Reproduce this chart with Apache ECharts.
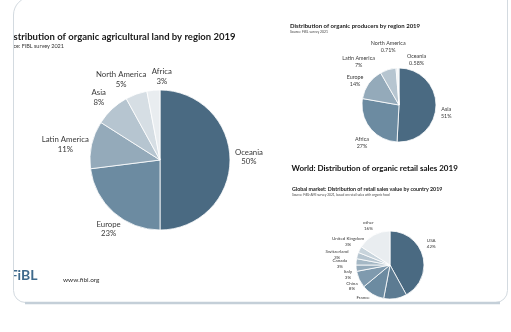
<!DOCTYPE html>
<html>
<head>
<meta charset="utf-8">
<script src="https://cdn.jsdelivr.net/npm/echarts@6/dist/echarts.min.js"></script>
<style>
  html, body { margin: 0; padding: 0; background: #ffffff; }
  #chart { width: 511px; height: 332px; }
</style>
</head>
<body>
<div id="chart"></div>
<script>
// Organic agricultural land by region 2019 (share of total, %)
const landRegions = ['Oceania', 'Europe', 'Latin America', 'Asia', 'North America', 'Africa'];
const landShares = [50, 23, 11, 8, 5, 3];

// Organic producers by region 2019 (share of total, %)
const producerRegions = ['Asia', 'Africa', 'Europe', 'Latin America', 'North America', 'Oceania'];
const producerShares = [51, 27, 14, 7, 0.71, 0.58];

// Retail sales value by country 2019 (share of global market, %)
const retailCountries = ['USA', 'Germany', 'France', 'China', 'Italy', 'Canada', 'Switzerland', 'United Kingdom', 'other'];
const retailShares = [42, 11, 11, 8, 3, 3, 3, 3, 16];

const FONT = 'Lato, "Open Sans", sans-serif';
const TEXT = '#3a3a3a';

const shadesSix = ['#4a6a82', '#6c8ba1', '#94aaba', '#b6c5d0', '#d6dee4', '#e9edf0'];
const shadesNine = ['#4a6a82', '#5c7b92', '#6c8ba1', '#7f9aae', '#94aaba', '#a5b8c5', '#b6c5d0', '#c8d4dc', '#e9edf0'];

// small hand adjustments of label placement, per slice name [dx, dy]
const labelNudges = {
  land: {
    'Oceania': [-6, -3], 'Europe': [16, 12], 'Latin America': [8, 1],
    'Asia': [3, -7], 'North America': [17, -9], 'Africa': [24, -8]
  },
  producers: {
    'Asia': [-4, 7], 'Africa': [7, 12], 'Europe': [3, -1],
    'Latin America': [-7, -4], 'North America': [14, -17], 'Oceania': [33, -4]
  },
  retail: {
    'USA': [-5, -12], 'other': [7, -6], 'United Kingdom': [13, -6], 'Switzerland': [0, 0],
    'Canada': [0, 2], 'Italy': [5, 6], 'China': [7, 5], 'France': [4, 3], 'Germany': [0, 4]
  }
};

function pieData(names, values, colors) {
  return names.map((n, i) => ({ name: n, value: values[i], itemStyle: { color: colors[i] } }));
}

// center each multi-line label on the point the library chose for it, then nudge
function centerLabels(nudges, names) {
  return function (params) {
    const r = params.labelRect;
    const d = nudges[names[params.dataIndex]] || [0, 0];
    return {
      x: r.x + r.width / 2 + d[0],
      y: r.y + r.height / 2 + d[1],
      align: 'center',
      verticalAlign: 'middle'
    };
  };
}

function pieSeries(name, names, values, colors, center, radius, fontSize, lineLen) {
  return {
    type: 'pie',
    name: name,
    center: center,
    radius: radius,
    startAngle: 90,
    clockwise: true,
    animation: false,
    silent: true,
    avoidLabelOverlap: false,
    itemStyle: { borderColor: '#ffffff', borderWidth: 0.8 },
    label: {
      show: true,
      position: 'outside',
      formatter: '{b}\n{c}%',
      fontFamily: FONT,
      fontSize: fontSize,
      lineHeight: fontSize * 1.25,
      color: TEXT
    },
    labelLine: { show: false, length: lineLen, length2: 0 },
    labelLayout: centerLabels(labelNudges[name], names),
    data: pieData(names, values, colors)
  };
}

const chart = echarts.init(document.getElementById('chart'), null, { renderer: 'canvas' });

chart.setOption({
  backgroundColor: '#ffffff',
  series: [
    pieSeries('land', landRegions, landShares, shadesSix, [160, 160], 70, 7.8, 6),
    pieSeries('producers', producerRegions, producerShares, shadesSix, [399, 105], 37, 5.4, 4),
    pieSeries('retail', retailCountries, retailShares, shadesNine, [390, 265], 34, 4.5, 4)
  ],
  graphic: [
    // area below the slide
    {
      type: 'rect', z: 9, silent: true,
      shape: { x: 0, y: 304, width: 511, height: 28 },
      style: { fill: '#ffffff' }
    },
    // slide frame
    {
      type: 'rect', z: 10, silent: true,
      shape: { x: 13.5, y: -3, width: 494, height: 305.5, r: [18, 3, 12, 12] },
      style: { fill: 'none', stroke: '#d3dae0', lineWidth: 1 }
    },
    {
      type: 'line', z: 10, silent: true,
      shape: { x1: 25, y1: 303, x2: 500, y2: 303 },
      style: { stroke: '#c4cfd8', lineWidth: 2.5 }
    },
    // main title
    {
      type: 'text', z: 5, left: 13.5, top: 32,
      style: { text: 'stribution of organic agricultural land by region 2019', font: 'bold 9.5px ' + FONT, fill: '#1a1a1a' }
    },
    {
      type: 'text', z: 5, left: 13.5, top: 43.5,
      style: { text: 'ce: FiBL survey 2021', font: '5.5px ' + FONT, fill: '#333333' }
    },
    // logo and address
    {
      type: 'text', z: 5, silent: true,
      style: { x: 37.5, y: 275, text: 'FiBL', font: 'bold 14px ' + FONT, fill: '#3f6a8c', textAlign: 'right', textVerticalAlign: 'middle' }
    },
    {
      type: 'rect', z: 6, silent: true,
      shape: { x: 0, y: 260, width: 13.5, height: 30 },
      style: { fill: '#ffffff' }
    },
    {
      type: 'text', z: 5,
      style: { x: 63, y: 280, text: 'www.fibl.org', font: '6.5px ' + FONT, fill: '#333333', textVerticalAlign: 'middle' }
    },
    // producers title
    {
      type: 'text', z: 5,
      style: { x: 290, y: 26, text: 'Distribution of organic producers by region 2019', font: 'bold 6px ' + FONT, fill: '#1a1a1a', textVerticalAlign: 'middle' }
    },
    {
      type: 'text', z: 5,
      style: { x: 290, y: 31.5, text: 'Source: FiBL survey 2021', font: '3.4px ' + FONT, fill: '#444444', textVerticalAlign: 'middle' }
    },
    // retail titles
    {
      type: 'text', z: 5,
      style: { x: 291.5, y: 168, text: 'World: Distribution of organic retail sales 2019', font: 'bold 8px ' + FONT, fill: '#111111', textVerticalAlign: 'middle' }
    },
    {
      type: 'text', z: 5,
      style: { x: 292, y: 189.5, text: 'Global market: Distribution of retail sales value by country 2019', font: 'bold 5.3px ' + FONT, fill: '#1a1a1a', textVerticalAlign: 'middle' }
    },
    {
      type: 'text', z: 5,
      style: { x: 292, y: 195, text: 'Source: FiBL-AMI survey 2021, based on retail sales with organic food', font: '3.2px ' + FONT, fill: '#444444', textVerticalAlign: 'middle' }
    }
  ]
});
</script>
</body>
</html>
